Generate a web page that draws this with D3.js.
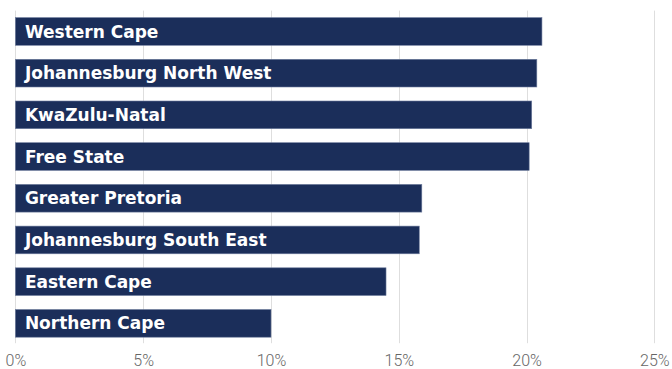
<!DOCTYPE html>
<html>
<head>
<meta charset="utf-8">
<script src="https://cdn.jsdelivr.net/npm/d3@7"></script>
<style>
  html, body { margin: 0; padding: 0; background: #ffffff; }
  svg { display: block; }
</style>
</head>
<body>
<svg id="chart" width="672" height="369"></svg>
<script>
// Regions, in drawing order from top to bottom
const regions = [
  "Western Cape",
  "Johannesburg North West",
  "KwaZulu-Natal",
  "Free State",
  "Greater Pretoria",
  "Johannesburg South East",
  "Eastern Cape",
  "Northern Cape"
];
// Share per region, in percent
const shares = [20.6, 20.4, 20.2, 20.1, 15.9, 15.8, 14.5, 10.0];
// Axis ticks, in percent
const tickValues = [0, 5, 10, 15, 20, 25];

const svg = d3.select("#chart");
const plotLeft = 15.4, plotRight = 654.4, plotTop = 10.6, plotBottom = 344.2;

const x = d3.scaleLinear().domain([0, 25]).range([plotLeft, plotRight]);
const y = d3.scaleBand().domain(regions).range([plotTop, plotBottom])
  .paddingInner(0.336).paddingOuter(0.168);

const rows = regions.map((r, i) => ({ region: r, value: shares[i] }));

// Vertical gridlines
svg.append("g").selectAll("line").data(tickValues).join("line")
  .attr("x1", d => Math.round(x(d)) + 0.5)
  .attr("x2", d => Math.round(x(d)) + 0.5)
  .attr("y1", plotTop).attr("y2", plotBottom - 1)
  .attr("stroke", "#dedede").attr("stroke-width", 1);

// Bottom axis labels
const axis = d3.axisBottom(x).tickValues(tickValues).tickFormat(d => d + "%").tickSize(0).tickPadding(0);
const ax = svg.append("g").attr("transform", `translate(0, ${plotBottom + 21.5})`).call(axis);
ax.select(".domain").remove();
ax.selectAll("text")
  .attr("dy", 0)
  .style("font-family", "Roboto, 'Liberation Sans', sans-serif")
  .style("font-weight", 300)
  .style("font-size", "16px")
  .style("fill", "#666666");

// Bars
svg.append("g").selectAll("rect").data(rows).join("rect")
  .attr("x", x(0))
  .attr("y", d => y(d.region))
  .attr("width", d => x(d.value) - x(0))
  .attr("height", y.bandwidth())
  .attr("fill", "#1b2e5a")
  .attr("stroke", "#6d7b9c")
  .attr("stroke-width", 0.6);

// Region names inside the bars
svg.append("g").selectAll("text").data(rows).join("text")
  .attr("x", x(0) + 9.5)
  .attr("y", d => y(d.region) + y.bandwidth() / 2)
  .attr("dy", "0.36em")
  .text(d => d.region)
  .style("font-family", "'DejaVu Sans', sans-serif")
  .style("font-weight", 700)
  .style("font-size", "17px")
  .style("fill", "#ffffff");
</script>
</body>
</html>
